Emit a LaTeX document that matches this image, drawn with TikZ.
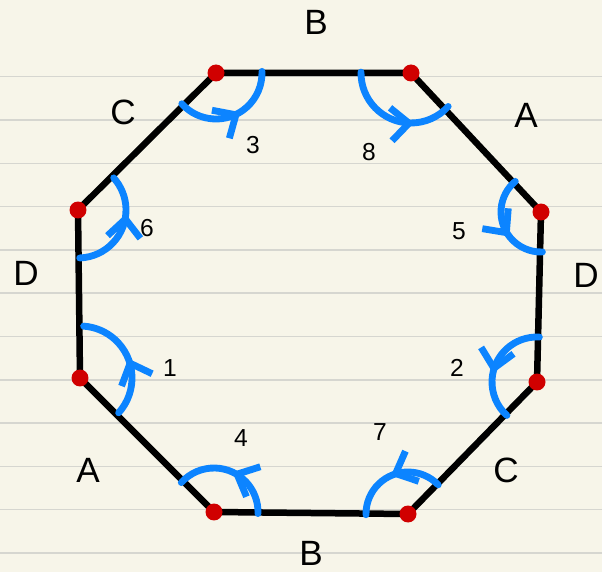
\documentclass[tikz,border=0pt]{standalone}
\usepackage{fontspec}
\setmainfont{Liberation Sans}
\usetikzlibrary{arrows.meta,decorations.markings,calc}
\definecolor{paper}{RGB}{247,245,233}
\definecolor{ruling}{RGB}{214,214,208}
\definecolor{pen}{RGB}{12,132,255}
\definecolor{dot}{RGB}{208,0,0}

\begin{document}
\begin{tikzpicture}[
      x=0.02cm, y=0.02cm,
      edge/.style={line width=3.7pt, line join=round},
      turn/.style={pen, line width=3.9pt, line cap=round,
        decoration={markings, mark=at position #1 with {\arrow[pen, line cap=round, line join=round]{Straight Barb[length=3.6mm, width=6.6mm]}}},
        postaction={decorate}},
      corner/.style={circle, fill=dot, inner sep=0pt, minimum size=0.34cm},
      side/.style={font=\fontsize{20}{24}\selectfont},
      num/.style={font=\fontsize{14}{17}\selectfont}
  ]
    \useasboundingbox (0,0) rectangle (602,572);
    \fill[paper] (0,0) rectangle (602,572);
    \foreach \k in {0,...,11}
      \draw[ruling, line width=0.8pt] (0,{495.3-43.3*\k}) -- (602,{495.3-43.3*\k});

    \coordinate (tl) at (216,499);
    \coordinate (tr) at (411,499);
    \coordinate (rt) at (541,360);
    \coordinate (rb) at (537,190);
    \coordinate (br) at (408,58);
    \coordinate (bl) at (214,60);
    \coordinate (lb) at (80,194);
    \coordinate (lt) at (78,362);

    \draw[edge] (tl) -- (tr) -- (rt) -- (rb) -- (br) -- (bl) -- (lb) -- (lt) -- cycle;

    \draw[turn=0.5]  ($(lb)+(-42:52)$) arc[start angle=-42, end angle=86, radius=52];
    \draw[turn=0.58] ($(rb)+(87:45)$)  arc[start angle=87, end angle=228, radius=45];
    \draw[turn=0.57] ($(tl)+(222:46)$) arc[start angle=222, end angle=362, radius=46];
    \draw[turn=0.48] ($(bl)+(-2:44)$)  arc[start angle=-2, end angle=138, radius=44];
    \draw[turn=0.62] ($(rt)+(130:40)$) arc[start angle=130, end angle=272, radius=40];
    \draw[turn=0.64] ($(lt)+(-88:48)$) arc[start angle=-88, end angle=42, radius=48];
    \draw[turn=0.51] ($(br)+(44:42)$)  arc[start angle=44, end angle=181, radius=42];
    \draw[turn=0.68] ($(tr)+(179:50)$) arc[start angle=179, end angle=318, radius=50];

    \foreach \v in {tl,tr,rt,rb,br,bl,lb,lt}
      \node[corner] (dot-\v) at (\v) {};

    \node[side] (top-b) at (316,550) {B};
    \node[side] (right-a) at (526,457) {A};
    \node[side] (right-d) at (586,297) {D};
    \node[side] (right-c) at (506,102) {C};
    \node[side] (bottom-b) at (311,19) {B};
    \node[side] (left-a) at (88,102) {A};
    \node[side] (left-d) at (26,299) {D};
    \node[side] (left-c) at (123,460) {C};

    \node[num] (n1) at (170,204) {1};
    \node[num] (n2) at (457,204) {2};
    \node[num] (n3) at (253,427) {3};
    \node[num] (n4) at (241,134) {4};
    \node[num] (n5) at (459,341) {5};
    \node[num] (n6) at (147,344) {6};
    \node[num] (n7) at (380,140) {7};
    \node[num] (n8) at (369,420) {8};
  \end{tikzpicture}
\end{document}
